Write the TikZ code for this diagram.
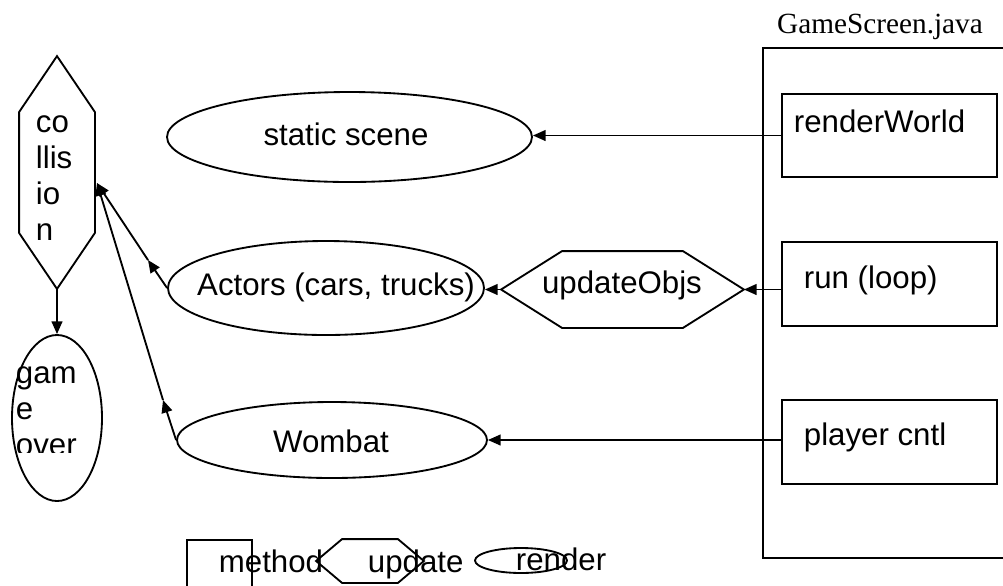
\documentclass[tikz,border=0pt]{standalone}
\usepackage{fontspec}
\setmainfont{Liberation Sans}
\newfontfamily\javafont{Liberation Serif}
\usetikzlibrary{arrows.meta,calc,shapes.geometric}

\newcommand{\pxu}{0.018cm}
% hexagon outlines round a (borderless) node
\newcommand{\hexh}[2]{\draw (#1.west) -- ($(#1.north west)+(#2,0)$) -- ($(#1.north east)+(-#2,0)$) -- (#1.east) -- ($(#1.south east)+(-#2,0)$) -- ($(#1.south west)+(#2,0)$) -- cycle;}
\newcommand{\hexv}[2]{\draw (#1.north) -- ($(#1.north east)+(0,#2)$) -- ($(#1.south east)+(0,-#2)$) -- (#1.south) -- ($(#1.south west)+(0,-#2)$) -- ($(#1.north west)+(0,#2)$) -- cycle;}

\tikzset{
  ell/.style 2 args={draw, ellipse, inner sep=0pt, minimum width=#1*\pxu, minimum height=#2*\pxu},
  meth/.style 2 args={draw, rectangle, inner sep=0pt, minimum width=#1*\pxu, minimum height=#2*\pxu},
  hexa/.style 2 args={inner sep=0pt, minimum width=#1*\pxu, minimum height=#2*\pxu},
  txt/.style={inner sep=0pt, font=\fontsize{16}{18.4}\selectfont},
  arr/.style={-{Triangle[length=6.5pt,width=5.5pt]}}
}

\begin{document}
\begin{tikzpicture}[x=0.018cm, y=-0.018cm, line width=0.95pt]
  \useasboundingbox (0,0) rectangle (1003,585);
  % collision, game over
  \node[hexa={74}{231}] (coll) at (57,172.5) {};
  \hexv{coll}{56}
  \node[txt, anchor=base west, align=left] (colltxt) at (35,240) {co\\llis\\io\\n};
  \node[ell={90}{166}] (over) at (57,418) {};
  \begin{scope}
    \clip (0,300) rectangle (120,452);
    \node[txt, anchor=base west, align=left] (overtxt) at (15,455) {gam\\e\\over};
  \end{scope}
  \draw[arr] (coll.south) -- (over.north);
  % static scene, actors, wombat
  \node[ell={365}{90}] (static) at (349.5,137) {};
  \node[txt, anchor=base] (statictxt) at (346,145) {static scene};
  \node[ell={316}{94}] (actors) at (326,288) {};
  \node[txt, anchor=base] (actorstxt) at (336,295) {Actors (cars, trucks)};
  \node[hexa={241}{75}] (upd) at (622.5,289.5) {};
  \hexh{upd}{61}
  \node[txt, anchor=base] (updtxt) at (622,293) {updateObjs};
  \node[ell={310}{76}] (wombat) at (332,440) {};
  \node[txt, anchor=base] (wombattxt) at (331,452) {Wombat};
  % GameScreen.java
  \draw (1003,48) -- (763,48) -- (763,558) -- (1003,558);
  \node[anchor=base, inner sep=0pt, font=\javafont\fontsize{15}{18}\selectfont] (gsname) at (880,33) {GameScreen.java};
  \node[meth={215}{83}] (rw) at (889.5,135.5) {};
  \node[txt, anchor=base west] (rwtxt) at (793,132) {renderWorld};
  \node[meth={215}{84}] (run) at (889.5,284) {};
  \node[txt, anchor=base west] (runtxt) at (803,288) {run (loop)};
  \node[meth={215}{84}] (pc) at (889.5,442) {};
  \node[txt, anchor=base west] (pctxt) at (803,445) {player cntl};
  % calls
  \draw[arr] (rw.west) -- (rw.west -| static.east);
  \draw[arr] (upd.east -| run.west) -- (upd.east);
  \draw[arr] (upd.west) -- (upd.west -| actors.east);
  \draw[arr] (wombat.east -| pc.west) -- (wombat.east);
  % into collision
  \coordinate (hit) at (97,183);
  \coordinate (amid) at (148,260);
  \coordinate (wmid) at (163,400);
  \draw[arr] (actors.west) -- (amid);
  \draw[arr] (amid) -- (hit);
  \draw[arr] (wombat.west) -- (wmid);
  \draw[arr] (wmid) -- (hit);
  % legend
  \node[meth={65}{60}] (lgm) at (219.5,570) {};
  \node[txt, anchor=base west] (lgmtxt) at (218,572) {method};
  \node[hexa={106}{42}] (lgu) at (370,561) {};
  \hexh{lgu}{26}
  \node[txt, anchor=base west] (lgutxt) at (367,572) {update};
  \node[ell={92}{25}] (lgr) at (521,560.5) {};
  \node[txt, anchor=base west] (lgrtxt) at (515,570) {render};
\end{tikzpicture}
\end{document}
